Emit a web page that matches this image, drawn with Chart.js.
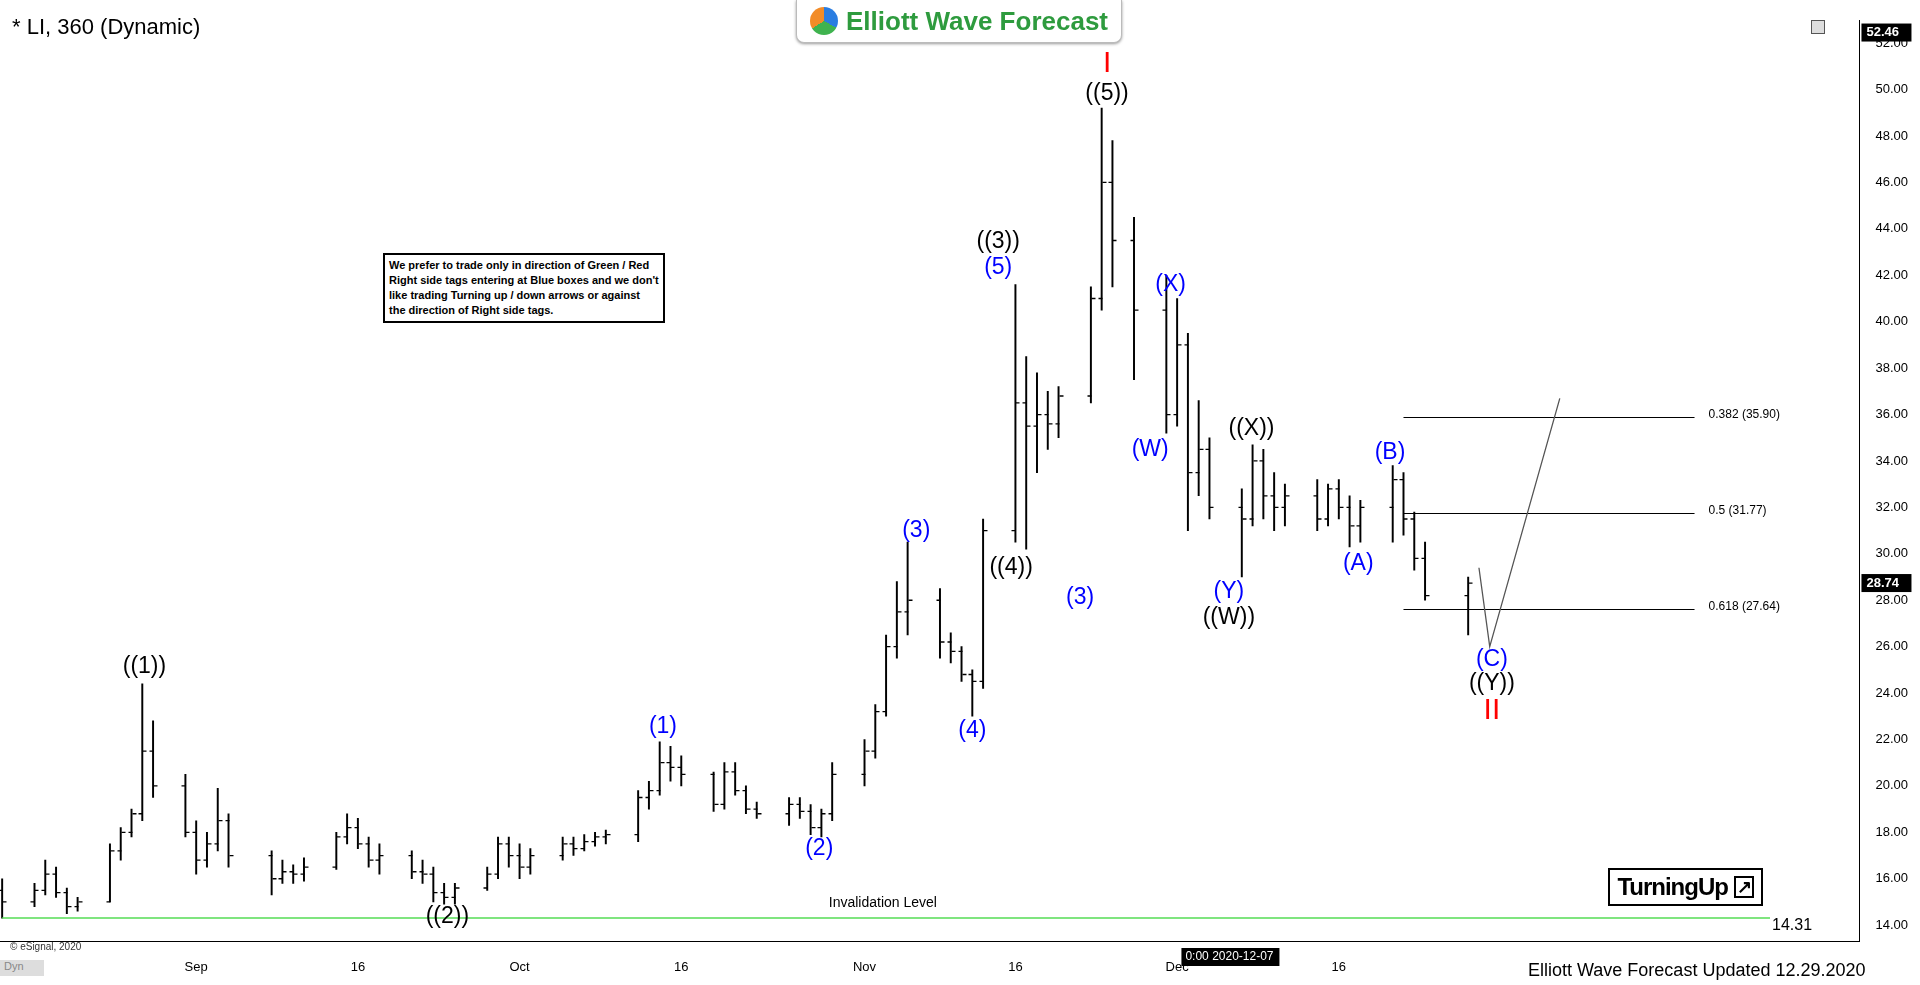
<!DOCTYPE html>
<html><head><meta charset="utf-8">
<script src="https://cdn.jsdelivr.net/npm/chart.js@4.4.0/dist/chart.umd.min.js"></script>
<style>html,body{margin:0;padding:0;background:#fff;overflow:hidden}#wrap{position:relative;width:1920px;height:985px}</style>
</head><body><div id="wrap"><canvas id="c" width="1920" height="985"></canvas></div>
<script>
// calendar-day offsets from 2020-08-14 for each 360-min bar
const days=[0,3,4,5,6,7,10,11,12,13,14,17,18,19,20,21,25,26,27,28,31,32,33,34,35,38,39,40,41,42,45,46,47,48,49,52,53,54,55,56,59,60,61,62,63,66,67,68,69,70,73,74,75,76,77,80,81,82,83,84,87,88,89,90,91,94,95,96,97,98,101,102,103,105,108,109,110,111,112,115,116,117,118,119,122,123,124,125,126,129,130,131,132,136];
const opens=[15.5,15.0,15.5,16.2,15.4,14.8,15.0,17.2,18.0,18.8,21.5,20.0,18,16.8,17.5,18.5,17,16,16.3,16.2,16.5,17.8,18.2,17.5,16.8,17,16.3,16.2,15.4,15.2,15.6,16.2,17.5,17.0,16.5,17,17.5,17.3,17.6,17.8,17.9,19.5,19.8,21.0,20.8,20.5,19.2,20.6,19.8,19.0,18.8,19.2,18.9,18.2,18.8,20.5,21.5,23.2,26.0,27.5,28.0,26.2,25.8,24.8,24.5,31,36.5,35.5,36.0,35.6,36.8,41.0,46.0,43.5,40.5,36.0,39,33.5,34.5,32,31.5,34,32.5,32.0,32.5,31.5,32.8,32,31.2,32,33.2,31.5,29.8,28.2];
const highs=[16.0,15.8,16.8,16.5,15.6,15.2,17.5,18.2,19.0,24.4,22.8,20.5,18.5,18.0,19.9,18.8,17.2,16.8,16.6,16.9,18.0,18.8,18.6,17.8,17.5,17.2,16.8,16.5,15.8,15.8,16.5,17.8,17.8,17.5,17.3,17.8,17.8,17.9,18.0,18.1,19.8,20.2,21.9,21.7,21.3,20.6,21.0,21.0,20.0,19.3,19.5,19.5,19.2,19.0,21.0,22.0,23.5,26.5,28.8,30.5,28.5,26.6,26.0,25.0,31.5,41.6,38.5,37.8,37.0,37.2,41.5,49.2,47.8,44.5,42.0,41.0,39.5,36.6,35.0,32.8,34.7,34.5,33.5,33.0,33.2,33.0,33.2,32.5,32.3,33.8,33.5,31.8,30.5,29.0];
const lows=[14.3,14.8,15.3,15.2,14.5,14.6,15.0,16.8,17.8,18.5,19.5,17.8,16.2,16.5,17.2,16.5,15.3,15.8,15.8,15.9,16.4,17.5,17.3,16.5,16.2,16.0,15.8,15.0,14.9,14.9,15.5,16.0,16.5,16.0,16.2,16.8,17.0,17.2,17.4,17.5,17.6,19.0,19.6,20.2,20.0,18.9,19.0,19.6,18.8,18.6,18.3,18.6,17.9,17.8,18.5,20.0,21.2,23.0,25.5,26.5,25.5,25.3,24.5,23.0,24.2,30.5,30.2,33.5,34.5,35.0,36.5,40.5,41.5,37.5,35.2,35.5,31.0,32.5,31.5,29.0,31.2,31.5,31.0,31.2,31.0,31.2,31.5,30.3,30.5,30.5,30.8,29.3,28.0,26.5];
const closes=[15.0,15.5,16.2,15.4,14.8,15.0,17.2,18.0,18.8,21.5,20.0,18.0,16.8,17.5,18.5,17.0,16.0,16.3,16.2,16.5,17.8,18.2,17.5,16.8,17.0,16.3,16.2,15.4,15.2,15.6,16.2,17.5,17.0,16.5,17.0,17.5,17.3,17.6,17.8,17.9,19.5,19.8,21.0,20.8,20.5,19.2,20.6,19.8,19.0,18.8,19.2,18.9,18.2,18.8,20.5,21.5,23.2,26.0,27.5,28.0,26.2,25.8,24.8,24.5,31.0,36.5,35.5,36.0,35.6,36.8,41.0,46.0,43.5,40.5,36.0,39.0,33.5,34.5,32.0,31.5,34.0,32.5,32.0,32.5,31.5,32.8,32.0,31.2,32.0,33.2,31.5,29.8,28.2,28.74];
const xTickDays=[18,33,48,63,80,94,109,124];
const xTickLabels=['Sep','16','Oct','16','Nov','16','Dec','16'];
const waveText=['((1))','((2))','(1)','(2)','(3)','(4)','(5)','((3))','((4))','(3)','((5))','I','(X)','(W)','((X))','(Y)','((W))','(A)','(B)','(C)','((Y))','II'];
const waveDay=[13.2,41.3,61.3,75.8,84.8,90,92.4,92.4,93.6,100,102.5,102.5,108.4,106.5,115.9,113.8,113.8,125.8,128.75,138.2,138.2,138.2];
const wavePrice=[25.14,14.37,22.55,17.28,31.0,22.4,42.34,43.45,29.41,28.1,49.84,51.1,41.6,34.48,35.38,28.36,27.25,29.57,34.37,25.46,24.4,23.24];
const waveColor=['k','k','b','b','b','b','b','k','k','b','k','r','b','b','k','b','k','b','b','b','k','r'];
const fibLevels=[35.90,31.77,27.64];
const fibLabels=['0.382 (35.90)','0.5 (31.77)','0.618 (27.64)'];
const invalidation=14.31;
const projDays=[137,138,144.5], projPrices=[29.4,26.0,36.7];

const colors={k:'#000',b:'#0000ff',r:'#ff0000'};
const ohlcPlugin={id:'ohlc',afterDatasetsDraw(ch){
  const c=ch.ctx,xs=ch.scales.x,ys=ch.scales.y,a=ch.chartArea;
  c.save();c.beginPath();c.rect(a.left,a.top,a.right-a.left,a.bottom-a.top);c.clip();
  c.strokeStyle='#55dd55';c.lineWidth=1.5;c.beginPath();c.moveTo(xs.getPixelForValue(0),ys.getPixelForValue(invalidation));c.lineTo(xs.getPixelForValue(164),ys.getPixelForValue(invalidation));c.stroke();
  c.strokeStyle='#000';c.lineWidth=1.3;
  days.forEach((d,i)=>{const x=Math.round(xs.getPixelForValue(d))+0.5;
    c.beginPath();c.moveTo(x-4,ys.getPixelForValue(opens[i]));c.lineTo(x,ys.getPixelForValue(opens[i]));
    c.moveTo(x,ys.getPixelForValue(closes[i]));c.lineTo(x+4,ys.getPixelForValue(closes[i]));c.stroke();});
  c.strokeStyle='#000';c.lineWidth=1;c.font='12px "Liberation Sans",Arial';c.fillStyle='#000';c.textBaseline='middle';
  fibLevels.forEach((v,i)=>{const y=Math.round(ys.getPixelForValue(v))+0.5;c.beginPath();c.moveTo(xs.getPixelForValue(130),y);c.lineTo(xs.getPixelForValue(157),y);c.stroke();c.fillText(fibLabels[i],xs.getPixelForValue(158.3),y-3);});
  c.strokeStyle='#555';c.lineWidth=1.3;c.beginPath();projDays.forEach((d,i)=>{const x=xs.getPixelForValue(d),y=ys.getPixelForValue(projPrices[i]);i?c.lineTo(x,y):c.moveTo(x,y);});c.stroke();
  c.textAlign='center';c.textBaseline='middle';
  waveText.forEach((t,i)=>{c.fillStyle=colors[waveColor[i]];
    c.font=(waveColor[i]==='r'?'30px':'23px')+' "Liberation Sans",Arial';
    c.fillText(t,xs.getPixelForValue(waveDay[i]),ys.getPixelForValue(wavePrice[i]));});
  c.fillStyle='#000';c.font='14px "Liberation Sans",Arial';c.fillText('Invalidation Level',xs.getPixelForValue(81.7),ys.getPixelForValue(14.95));
  c.restore();
  c.save();c.font='16px "Liberation Sans",Arial';c.fillStyle='#000';c.textBaseline='middle';
  c.fillText('14.31',1772,ys.getPixelForValue(14.0));
  const box=(v,txt)=>{const y=ys.getPixelForValue(v);c.fillStyle='#000';c.fillRect(a.right+2,y-9,50,18);c.fillStyle='#fff';c.font='bold 13px "Liberation Sans",Arial';c.textAlign='left';c.fillText(txt,a.right+7,y);};
  box(52.46,'52.46');box(28.74,'28.74');
  const bx=xs.getPixelForValue(109.4);c.fillStyle='#000';c.fillRect(bx,948,98,18);c.fillStyle='#fff';c.font='12px "Liberation Sans",Arial';c.textAlign='left';c.fillText('0:00 2020-12-07',bx+4,957);
  c.restore();
}};
const ds={type:'bar',data:days.map((d,i)=>({x:d,y:[lows[i],highs[i]]})),backgroundColor:'#000',borderWidth:0,barThickness:1.3,grouped:false};
new Chart(document.getElementById('c'),{type:'bar',data:{datasets:[ds]},plugins:[ohlcPlugin],
options:{responsive:false,animation:false,events:[],layout:{padding:{left:0,right:4,top:20,bottom:0}},
 plugins:{legend:{display:false},tooltip:{enabled:false}},
 scales:{
  x:{type:'linear',offset:false,min:-0.2,max:172.3,grid:{display:false,offset:false},border:{display:true,color:'#000',width:1},
     afterBuildTicks(s){s.ticks=xTickDays.map(v=>({value:v}));},
     ticks:{autoSkip:false,maxRotation:0,color:'#000',font:{size:13,family:'"Liberation Sans",Arial'},padding:10,callback:(v,i)=>xTickLabels[i]}},
  y:{position:'right',min:13.3,max:53,grid:{display:false},border:{display:true,color:'#000',width:1},
     afterBuildTicks(s){s.ticks=s.ticks.filter(t=>Math.abs(t.value%2)<1e-6);},
     ticks:{stepSize:2,color:'#000',font:{size:13,family:'"Liberation Sans",Arial'},callback:v=>v.toFixed(2),padding:8}}
 }}});
const ov=(html)=>{const d=document.createElement('div');d.innerHTML=html;document.getElementById('wrap').appendChild(d.firstChild);};
ov('<div style="position:absolute;left:12px;top:14px;font:22px \'Liberation Sans\',Arial;color:#000">* LI, 360 (Dynamic)</div>');
ov('<div style="position:absolute;left:796px;top:0;width:324px;height:42px;background:#fff;border:1px solid #bbb;border-top:none;border-radius:0 0 8px 8px;box-shadow:0 1px 3px #999;display:flex;align-items:center;justify-content:center;gap:8px"><div style="width:28px;height:28px;border-radius:50%;background:conic-gradient(#2a7de1 0 33%,#3fb34f 0 66%,#f28c28 0)"></div><span style="font:bold 26px \'Liberation Sans\',Arial;color:#2e9b3e">Elliott Wave Forecast</span></div>');
ov('<div style="position:absolute;left:383px;top:253px;width:270px;padding:3px 4px;border:2px solid #000;font:bold 11px \'Liberation Sans\',Arial;line-height:15px;color:#000;background:#fff">We prefer to trade only in direction of Green / Red Right side tags entering at Blue boxes and we don\'t like trading Turning up / down arrows or against the direction of Right side tags.</div>');
ov('<div style="position:absolute;left:1608px;top:868px;width:151px;height:34px;border:2px solid #000;font:bold 24px \'Liberation Sans\',Arial;color:#000;display:flex;align-items:center;justify-content:center;letter-spacing:-1px">TurningUp&nbsp;<span style="border:2px solid #000;font-size:18px;line-height:18px;padding:0 1px">&#8599;</span></div>');
ov('<div style="position:absolute;left:10px;top:941px;font:10px \'Liberation Sans\',Arial;color:#333">© eSignal, 2020</div>');
ov('<div style="position:absolute;left:0;top:960px;width:40px;height:16px;background:#ddd;font:11px \'Liberation Sans\',Arial;color:#888;padding-left:4px">Dyn</div>');
ov('<div style="position:absolute;left:1528px;top:960px;font:18px \'Liberation Sans\',Arial;color:#000">Elliott Wave Forecast Updated 12.29.2020</div>');
ov('<div style="position:absolute;left:1811px;top:20px;width:12px;height:12px;border:1px solid #555;background:#ddd"></div>');
</script></body></html>
